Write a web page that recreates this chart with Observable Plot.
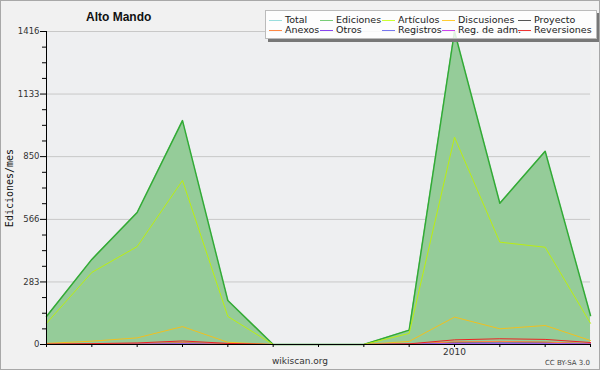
<!DOCTYPE html>
<html><head><meta charset="utf-8">
<script src="https://cdn.jsdelivr.net/npm/d3@7"></script>
<script src="https://cdn.jsdelivr.net/npm/@observablehq/plot@0.6"></script>
<style>
body{margin:0;background:#f1f1f1;}
#wrap{position:relative;width:600px;height:370px;overflow:hidden;font-family:"DejaVu Sans",sans-serif;color:#222;}
#wrap svg{display:block;}
.abs{position:absolute;white-space:nowrap;}
#border{position:absolute;left:0;top:0;width:600px;height:370px;box-sizing:border-box;border:1px solid #a8a8a8;pointer-events:none;}
#legend{position:absolute;left:265px;top:10px;width:330px;height:27px;background:rgba(255,255,255,0.85);border:1px solid #bbb;box-shadow:3px 3px 0 #777;}
.li{position:absolute;font-size:9.5px;line-height:10px;height:10px;white-space:nowrap;}
.li span{white-space:nowrap;}
.sw{position:absolute;top:5px;width:13px;height:1px;}
</style></head><body><div id="wrap"></div>
<script>
const months = ["2009-04","2009-05","2009-06","2009-07","2009-08","2009-09","2009-10","2009-11","2009-12","2010-01","2010-02","2010-03","2010-04"];
const xTickLabels = ["","","","","","","","","","2010","","",""];
const yTicks = [0, 283, 566, 850, 1133, 1416];

const total       = [127, 385, 597, 1013, 199, 0, 0, 0, 65, 1416, 639, 874, 131];
const ediciones   = [127, 385, 597, 1013, 199, 0, 0, 0, 65, 1416, 639, 874, 131];
const articulos   = [96, 326, 443, 742, 127, 0, 0, 0, 50, 938, 463, 440, 96];
const discusiones = [5, 15, 30, 81, 10, 0, 0, 0, 14, 124, 71, 86, 18];
const proyecto    = [0, 1, 2, 8, 2, 0, 0, 0, 1, 10, 12, 10, 3];
const anexos      = [0, 1, 3, 8, 2, 0, 0, 0, 2, 12, 14, 11, 4];
const otros       = [0, 0, 1, 3, 0, 0, 0, 0, 1, 5, 6, 5, 2];
const registros   = [0, 0, 1, 2, 0, 0, 0, 0, 1, 3, 4, 4, 1];
const regAdm      = [0, 0, 0, 1, 0, 0, 0, 0, 0, 2, 2, 2, 1];
const reversiones = [2, 4, 7, 16, 5, 0, 0, 0, 3, 21, 26, 23, 9];

const seriesNames = ["Total","Ediciones","Artículos","Discusiones","Proyecto","Anexos","Otros","Registros","Reg. de adm.","Reversiones"];
const seriesValues = [total, ediciones, articulos, discusiones, proyecto, anexos, otros, registros, regAdm, reversiones];
const seriesColors = ["#99dddd","#77cc77","#ccff33","#ffcc33","#555555","#ff8844","#8844ee","#7777ee","#cc44ee","#ee3333"];
const lineColors   = ["#99dddd","#33aa33","#bbee11","#f0c020","#555555","#ff8844","#8844ee","#7777ee","#cc44ee","#ee2222"];

const rows = [];
seriesNames.forEach((name, s) => {
  seriesValues[s].forEach((v, i) => rows.push({series: name, i, month: months[i], v}));
});
const ed = rows.filter(d => d.series === "Ediciones");

const minor = [];
for (let k = 0; k < yTicks.length - 1; k++) {
  const a = yTicks[k], b = yTicks[k+1];
  for (let j = 1; j < 4; j++) minor.push(a + (b - a) * j / 4);
}

const lineMarks = seriesNames.map((name, s) => name === "Ediciones" ? null :
  Plot.line(rows.filter(d => d.series === name), {x: "i", y: "v", stroke: lineColors[s], strokeWidth: 1}));

const chart = Plot.plot({
  width: 600, height: 370,
  marginLeft: 46, marginRight: 10, marginTop: 31, marginBottom: 26,
  style: {background: "#f1f1f1", fontFamily: "DejaVu Sans, sans-serif", fontSize: "8.5px", color: "#333"},
  x: {domain: [0, 12], axis: null},
  y: {domain: [0, 1416], axis: null},
  marks: [
    Plot.frame({fill: "#eeeff1", stroke: null}),
    Plot.gridY(yTicks.slice(1), {stroke: "#c8c8c8", strokeOpacity: 1}),
    Plot.areaY(ed, {x: "i", y: "v", fill: "#95cc99", fillOpacity: 1}),
    lineMarks[0],
    Plot.line(ed, {x: "i", y: "v", stroke: "#33aa33", strokeWidth: 1.5}),
    ...lineMarks.slice(2),
    Plot.axisY({ticks: minor, tickSize: 4, tickFormat: () => "", label: null, stroke: "#000"}),
    Plot.axisY({ticks: yTicks, tickSize: 6, tickPadding: 1, tickFormat: d => String(d), label: null, stroke: "#000", fill: "#333"}),
    Plot.axisX({ticks: d3.range(months.length), tickSize: 3, tickPadding: 1, tickFormat: i => xTickLabels[i], label: null, stroke: "#000", fontSize: "9px", fill: "#333"}),
    Plot.ruleX([0], {stroke: "#000", strokeWidth: 1}),
    Plot.ruleY([0], {stroke: "#000", strokeWidth: 1})
  ]
});

const wrap = document.getElementById("wrap");
wrap.appendChild(chart);

function addText(txt, css) {
  const el = document.createElement("div");
  el.className = "abs";
  el.textContent = txt;
  Object.assign(el.style, css);
  wrap.appendChild(el);
  return el;
}
addText("Alto Mando", {left: "86px", top: "10px", fontSize: "12px", fontWeight: "bold", fontFamily: "Liberation Sans, sans-serif", color: "#111"});
addText("Ediciones/mes", {left: "9px", top: "188px", fontSize: "10px", fontFamily: "DejaVu Sans Mono, monospace", transform: "translate(-50%,-50%) rotate(-90deg)", color: "#111"});
addText("wikiscan.org", {left: "300px", top: "361px", fontSize: "9px", transform: "translate(-50%,-50%)", color: "#333"});
addText("CC BY-SA 3.0", {right: "10px", top: "363px", fontSize: "7px", transform: "translateY(-50%)", color: "#444"});

const legend = document.createElement("div");
legend.id = "legend";
wrap.appendChild(legend);
const colX = [3, 54, 116, 176, 252];
seriesNames.forEach((name, s) => {
  const col = s % 5, row = Math.floor(s / 5);
  const item = document.createElement("div");
  item.className = "li";
  item.style.left = colX[col] + "px";
  item.style.top = (4 + row * 10) + "px";
  const sw = document.createElement("div");
  sw.className = "sw";
  sw.style.left = "0px";
  sw.style.background = seriesColors[s];
  const t = document.createElement("span");
  t.textContent = name;
  t.style.position = "absolute";
  t.style.left = "16px";
  t.style.top = "0px";
  item.appendChild(sw);
  item.appendChild(t);
  legend.appendChild(item);
});

const b = document.createElement("div");
b.id = "border";
wrap.appendChild(b);
</script>
</body></html>
